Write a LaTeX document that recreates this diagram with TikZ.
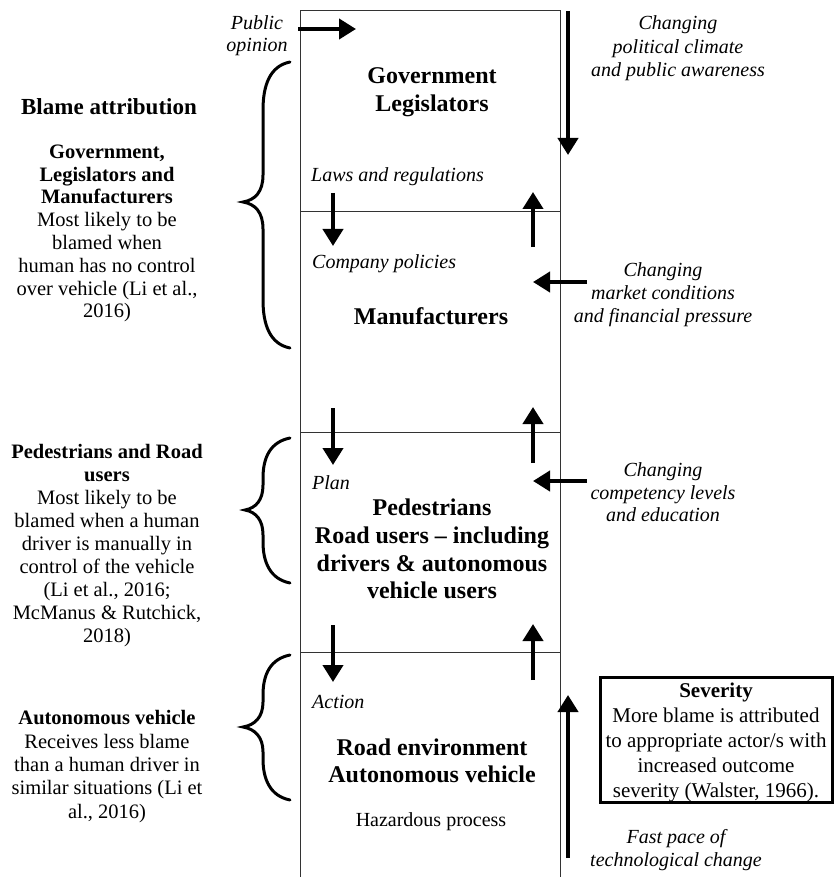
\documentclass[tikz,border=0pt]{standalone}
\usepackage{fontspec}
\setmainfont{Liberation Serif}
\usetikzlibrary{arrows.meta}
\tikzset{
  body/.style={font=\fontsize{20.5}{22.8}\selectfont, align=center, inner sep=0pt},
  lab/.style={font=\fontsize{20}{23}\selectfont\itshape, align=center, inner sep=0pt},
  title/.style={font=\fontsize{24}{28}\selectfont\bfseries, align=center, inner sep=0pt},
  arr/.style={line width=4pt, -{Triangle[width=20pt,length=17pt]}},
  frame/.style={line width=1pt, draw=black!80},
  brace/.style={line width=3pt, line cap=round},
}
\begin{document}
\begin{tikzpicture}[x=1pt,y=-1pt]
\useasboundingbox (0,0) rectangle (834,877);
% main column
\draw[frame] (300,877) -- (300,11) -- (560,11) -- (560,877);
\draw[frame] (300,212) -- (560,212);
\draw[frame] (300,432) -- (560,432);
\draw[frame] (300,652) -- (560,652);

% central texts
\node[title] (gov) at (432,92.5) {Government\\Legislators};
\node[title] (man) at (431,316) {Manufacturers};
\node[title, font=\fontsize{24}{27.7}\selectfont\bfseries] (ped) at (432,549) {Pedestrians\\Road users -- including\\drivers \& autonomous\\vehicle users};
\node[title, font=\fontsize{24}{27}\selectfont\bfseries] (road) at (432,760.5) {Road environment\\Autonomous vehicle};
\node[body, font=\fontsize{20}{23}\selectfont] (haz) at (431,822) {Hazardous process};

\node[lab, anchor=west] (laws) at (311,177) {Laws and regulations};
\node[lab, anchor=west] (comp) at (312,264) {Company policies};
\node[lab, anchor=west] (plan) at (312,483) {Plan};
\node[lab, anchor=west] (act) at (312,702) {Action};

% left
\node[lab, font=\fontsize{20}{22}\selectfont\itshape] (pub) at (257,36) {Public\\opinion};
\node[inner sep=0pt, font=\fontsize{23}{26}\selectfont\bfseries] (blame) at (109,107) {Blame attribution};
\node[body] (lgov) at (107,233.5) {\textbf{Government,}\\\textbf{Legislators and}\\\textbf{Manufacturers}\\Most likely to be\\blamed when\\human has no control\\over vehicle (Li et al.,\\2016)};
\node[body, font=\fontsize{20.5}{23.1}\selectfont] (lped) at (107,545.5) {\textbf{Pedestrians and Road}\\\textbf{users}\\Most likely to be\\blamed when a human\\driver is manually in\\control of the vehicle\\(Li et al., 2016;\\McManus \& Rutchick,\\2018)};
\node[body, font=\fontsize{20.5}{23.3}\selectfont] (lauto) at (107,766.5) {\textbf{Autonomous vehicle}\\Receives less blame\\than a human driver in\\similar situations (Li et\\al., 2016)};

% braces
\draw[brace] (290,62) .. controls (270,66) and (263,85) .. (263,110) -- (263,175) .. controls (263,192) and (255,200) .. (243,202) .. controls (255,204) and (263,212) .. (263,229) -- (263,300) .. controls (263,325) and (270,344) .. (290,348);
\draw[brace] (290,438) .. controls (270,442) and (263,458) .. (263,478) -- (263,485) .. controls (263,500) and (256,508) .. (245,510) .. controls (256,512) and (263,520) .. (263,535) -- (263,542) .. controls (263,562) and (270,579) .. (290,583);
\draw[brace] (290,655) .. controls (270,659) and (263,675) .. (263,695) -- (263,702) .. controls (263,717) and (255,725) .. (243,727) .. controls (255,729) and (263,737) .. (263,752) -- (263,759) .. controls (263,779) and (270,796) .. (290,800);

% right labels
\node[lab, font=\fontsize{20}{23.5}\selectfont\itshape] (pol) at (678,48.5) {Changing\\political climate\\and public awareness};
\node[lab, font=\fontsize{20}{23}\selectfont\itshape] (mkt) at (663,295) {Changing\\market conditions\\and financial pressure};
\node[lab, font=\fontsize{20}{22.5}\selectfont\itshape] (cmp) at (663,492.5) {Changing\\competency levels\\and education};
\node[lab, font=\fontsize{20}{23}\selectfont\itshape] (fast) at (676,850.5) {Fast pace of\\technological change};

\node[draw, line width=3pt, minimum width=232pt, minimum height=125pt, inner sep=0pt] (sevbox) at (716,739.5) {};
\node[body, font=\fontsize{21}{25}\selectfont] (sev) at (716,742.5) {\textbf{Severity}\\More blame is attributed\\to appropriate actor/s with\\increased outcome\\severity (Walster, 1966).};

% arrow end coordinates
\coordinate (a1s) at (298,29);  \coordinate (a1e) at (356,29);
\coordinate (a2s) at (568,11);  \coordinate (a2e) at (568,155);
\coordinate (a3s) at (333,193); \coordinate (a3e) at (333,246);
\coordinate (a4s) at (533,247); \coordinate (a4e) at (533,192);
\coordinate (a5s) at (587,282); \coordinate (a5e) at (533,282);
\coordinate (a6s) at (333,408); \coordinate (a6e) at (333,465);
\coordinate (a7s) at (533,463); \coordinate (a7e) at (533,407);
\coordinate (a8s) at (587,481); \coordinate (a8e) at (533,481);
\coordinate (a9s) at (333,625); \coordinate (a9e) at (333,682);
\coordinate (a10s) at (533,680); \coordinate (a10e) at (533,624);
\coordinate (a11s) at (568,858); \coordinate (a11e) at (568,695);

\draw[arr] (a1s) -- (a1e);
\draw[arr] (a2s) -- (a2e);
\draw[arr] (a3s) -- (a3e);
\draw[arr] (a4s) -- (a4e);
\draw[arr] (a5s) -- (a5e);
\draw[arr] (a6s) -- (a6e);
\draw[arr] (a7s) -- (a7e);
\draw[arr] (a8s) -- (a8e);
\draw[arr] (a9s) -- (a9e);
\draw[arr] (a10s) -- (a10e);
\draw[arr] (a11s) -- (a11e);
\end{tikzpicture}
\end{document}
